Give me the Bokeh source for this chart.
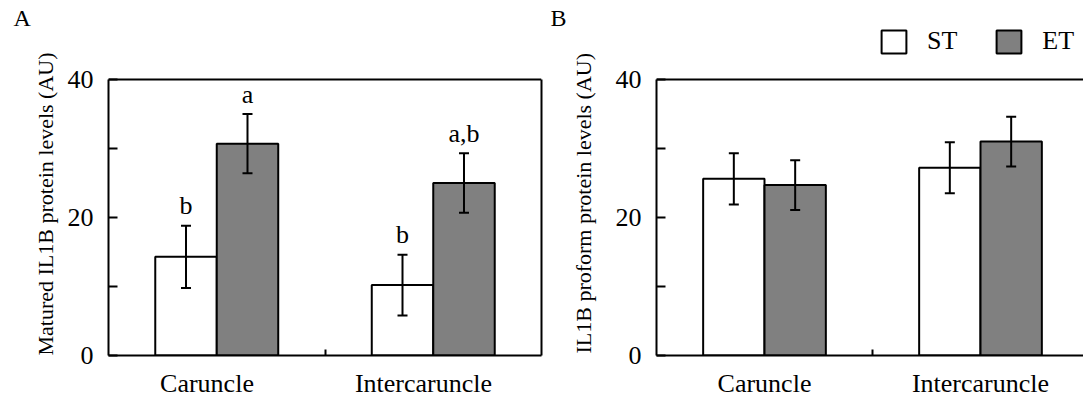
import numpy as np
from bokeh.plotting import figure
from bokeh.models import (Range1d, FixedTicker, LinearAxis, Whisker, TeeHead, Span,
                          ColumnDataSource, Legend, LegendItem)
from bokeh.layouts import row
from bokeh.embed import file_html
from bokeh.resources import INLINE
from bokeh.core.properties import value

# ---- data -------------------------------------------------------------
categories = ["Caruncle", "Intercaruncle"]
groups = ["ST", "ET"]

# Matured IL1B (panel A)
matured_st = [14.3, 10.2]
matured_st_err = [4.5, 4.4]
matured_et = [30.7, 25.0]
matured_et_err = [4.3, 4.3]
matured_st_letters = ["b", "b"]
matured_et_letters = ["a", "a,b"]

# IL1B proform (panel B)
proform_st = [25.6, 27.2]
proform_st_err = [3.7, 3.7]
proform_et = [24.7, 31.0]
proform_et_err = [3.6, 3.6]

y_ticks = [0, 10, 20, 30, 40]
y_tick_text = {0: "0", 10: "", 20: "20", 30: "", 40: "40"}
y_max = 40

# ---- styling ----------------------------------------------------------
FONT = "Liberation Serif"
FS = "26px"
FILL = {"ST": "white", "ET": "#808080"}
OFFSET = 0.142
BAR_W = 0.284
H = 412
BOTTOM = 57
FRAME_H = H - BOTTOM
BOX_H = 276                     # pixel height of the 0..40 box
Y_TOP = y_max * FRAME_H / BOX_H  # room above the box for legend


def side_strip(width, letter, letter_x, ylabel, ylabel_x, ylabel_y):
    """Narrow strip holding the panel letter and the rotated y-axis title.
    Its borders match the chart panels so the frames line up in the row."""
    s = figure(width=width, height=H, x_range=Range1d(0, width), y_range=Range1d(FRAME_H, 0),
               x_axis_type=None, y_axis_type=None, output_backend="svg",
               toolbar_location=None, min_border_left=0, min_border_right=0,
               min_border_top=0, min_border_bottom=BOTTOM)
    s.grid.visible = False
    s.outline_line_color = None
    s.text(x=[letter_x], y=[17], text=[letter], text_font=value(FONT),
           text_font_size="24px", text_color="black", text_align="left",
           text_baseline="alphabetic")
    s.text(x=[ylabel_x], y=[ylabel_y], text=[ylabel], angle=np.pi / 2,
           text_font=value(FONT), text_font_size="22px", text_color="black",
           text_align="center", text_baseline="middle")
    return s


def make_panel(width, border_left, border_right, x_end, st, st_err, et, et_err,
               label_shift, closed, st_letters=None, et_letters=None):
    p = figure(width=width, height=H, x_range=Range1d(0, x_end), y_range=Range1d(0, Y_TOP),
               output_backend="svg", toolbar_location=None,
               min_border_left=border_left, min_border_right=border_right,
               min_border_top=0, min_border_bottom=BOTTOM)
    p.grid.visible = False
    p.background_fill_color = "white"
    p.border_fill_color = "white"
    p.outline_line_color = None

    centers = np.arange(len(categories)) + 0.5
    st_x = centers - OFFSET
    et_x = centers + OFFSET

    r_st = p.vbar(x=st_x, top=st, width=BAR_W, fill_color=FILL["ST"],
                  line_color="black", line_width=2)
    r_et = p.vbar(x=et_x, top=et, width=BAR_W, fill_color=FILL["ET"],
                  line_color="black", line_width=2)

    for xs, ys, es in ((st_x, st, st_err), (et_x, et, et_err)):
        ys = np.array(ys)
        es = np.array(es)
        src = ColumnDataSource(dict(x=xs, upper=ys + es, lower=ys - es))
        w = Whisker(source=src, base="x", upper="upper", lower="lower",
                    line_color="black", line_width=2, level="overlay",
                    upper_head=TeeHead(size=10, line_width=2, line_color="black"),
                    lower_head=TeeHead(size=10, line_width=2, line_color="black"))
        p.add_layout(w)

    for xs, ys, es, letters in ((st_x, st, st_err, st_letters), (et_x, et, et_err, et_letters)):
        if letters:
            p.text(x=xs, y=np.array(ys) + np.array(es), text=letters,
                   text_font=value(FONT), text_font_size=FS, text_color="black",
                   text_align="center", text_baseline="alphabetic", y_offset=-20)

    # box top edge
    p.add_layout(Span(location=y_max, dimension="width", line_color="black", line_width=2))

    # y axis
    ya = p.left[0]
    ya.bounds = (0, y_max)
    ya.ticker = FixedTicker(ticks=y_ticks)
    ya.major_label_overrides = y_tick_text
    ya.major_tick_in = 9
    ya.major_tick_out = 0
    ya.major_tick_line_width = 2
    ya.minor_tick_line_color = None
    ya.axis_line_width = 2
    ya.major_label_standoff = 15
    ya.major_label_text_font = FONT
    ya.major_label_text_font_size = FS
    ya.major_label_text_color = "black"

    # x axis: category names under each group, a short tick between groups
    xa = p.below[0]
    ticks = list(centers + label_shift)
    xa.ticker = FixedTicker(ticks=ticks, minor_ticks=[1.0])
    xa.major_label_overrides = {t: c for t, c in zip(ticks, categories)}
    xa.major_tick_line_color = None
    xa.minor_tick_in = 6
    xa.minor_tick_out = 0
    xa.minor_tick_line_width = 2
    xa.axis_line_width = 2
    xa.major_label_standoff = 7
    xa.major_label_text_font = FONT
    xa.major_label_text_font_size = FS
    xa.major_label_text_color = "black"

    if closed:
        right = LinearAxis(ticker=FixedTicker(ticks=[]), bounds=(0, y_max),
                           axis_line_width=2, axis_line_color="black",
                           major_label_text_font_size="0px",
                           major_tick_line_color=None, minor_tick_line_color=None)
        p.add_layout(right, "right")
    return p, r_st, r_et


stripA = side_strip(62, "A", 13, "Matured  IL1B protein levels  (AU)", 45, 198)
pA, _, _ = make_panel(486, 46, 7, 2.0, matured_st, matured_st_err, matured_et, matured_et_err,
                      -0.045, True, st_letters=matured_st_letters, et_letters=matured_et_letters)

stripB = side_strip(52, "B", 2, "IL1B proform protein levels  (AU)", 35, 200)
pB, b_st, b_et = make_panel(483, 56, 0, 427 / 216, proform_st, proform_st_err,
                            proform_et, proform_et_err, 0.0, False)

legend = Legend(items=[LegendItem(label=groups[0], renderers=[b_st]),
                       LegendItem(label=groups[1], renderers=[b_et])],
                orientation="horizontal", location=(222, FRAME_H - 56),
                glyph_width=31, glyph_height=29, label_standoff=18, spacing=36,
                padding=0, margin=0, border_line_color=None, background_fill_alpha=0,
                label_text_font=FONT, label_text_font_size=FS, label_text_color="black")
pB.add_layout(legend, "center")

layout = row(stripA, pA, stripB, pB)
open("out.html", "w").write(file_html(layout, INLINE))
